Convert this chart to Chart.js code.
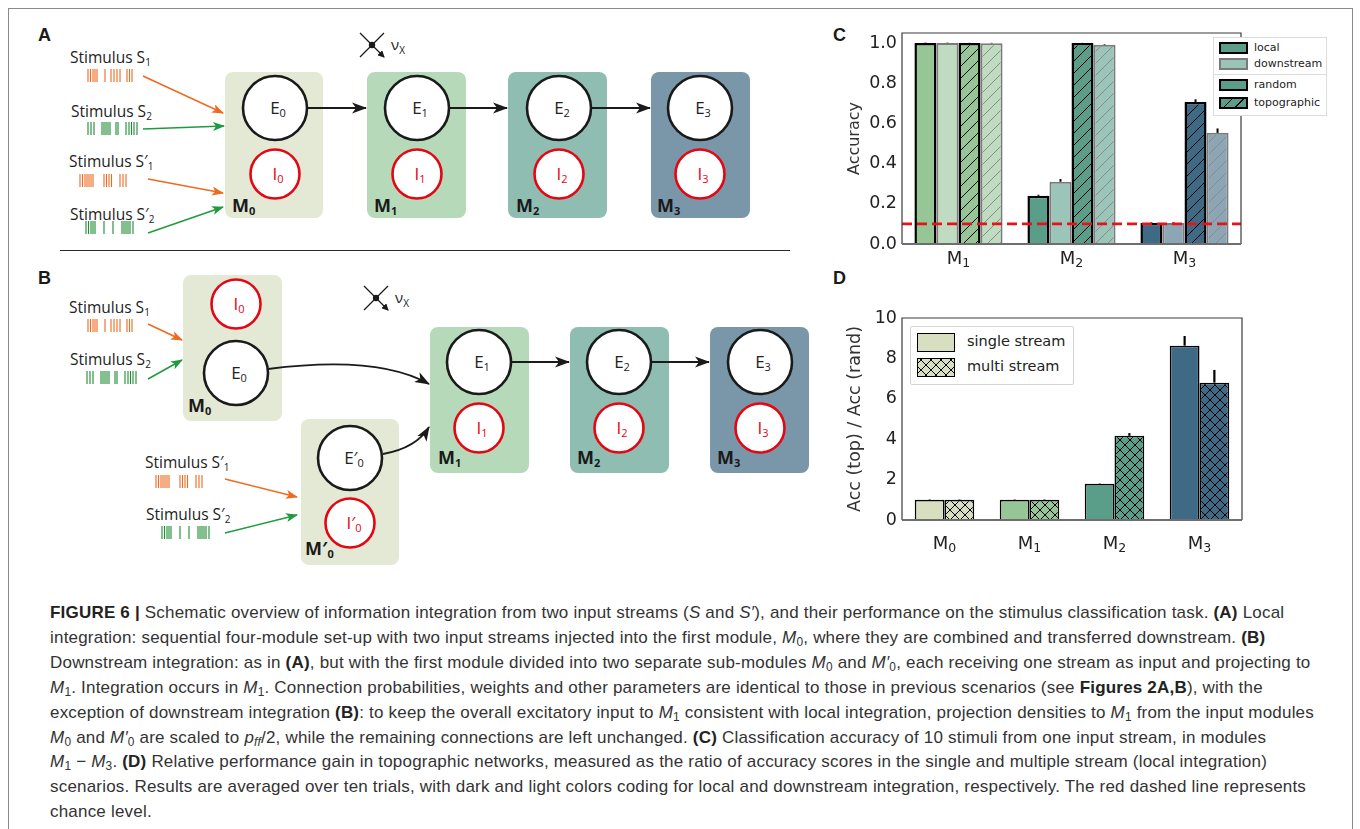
<!DOCTYPE html>
<html>
<head>
<meta charset="utf-8">
<script src="https://cdn.jsdelivr.net/npm/chart.js@4.4.1/dist/chart.umd.min.js"></script>
<style>
  html,body{margin:0;padding:0;background:#fff;}
  body{width:1360px;height:829px;position:relative;overflow:hidden;font-family:"Liberation Sans",Arial,sans-serif;}
  #frame{position:absolute;left:8px;top:8px;width:1345px;height:840px;border:1.5px solid #8a8a8a;box-sizing:border-box;}
  .abs{position:absolute;}
  .plabel{position:absolute;font:bold 18px "Liberation Sans",Arial,sans-serif;color:#1a1a1a;}
  #caption{position:absolute;left:50px;top:601px;font-size:17px;letter-spacing:0.2px;line-height:24.9px;color:#333;}
  #caption div{white-space:nowrap;}
  #caption b{color:#222;}
  #caption sub{font-size:0.7em;vertical-align:-0.25em;line-height:0;}
  .leg{position:absolute;background:#fff;font-family:"DejaVu Sans",sans-serif;color:#222;}
  .sw{position:absolute;box-sizing:border-box;}
  .lt{position:absolute;white-space:nowrap;}
</style>
</head>
<body>
<div id="frame"></div>

<svg class="abs" style="left:0;top:0" width="830" height="590" viewBox="0 0 830 590" font-family="'Open Sans','Noto Sans',sans-serif">
  <defs>
    <marker id="ab" markerUnits="userSpaceOnUse" markerWidth="16" markerHeight="12" refX="14" refY="6" orient="auto">
      <path d="M0,0.5 L15,6 L0,11.5 L4,6 z" fill="#1a1a1a"/>
    </marker>
    <marker id="ao" markerUnits="userSpaceOnUse" markerWidth="12" markerHeight="10" refX="11" refY="4.5" orient="auto">
      <path d="M0,0 L12,4.5 L0,9 L3,4.5 z" fill="#ef6a1f"/>
    </marker>
    <marker id="ag" markerUnits="userSpaceOnUse" markerWidth="12" markerHeight="10" refX="11" refY="4.5" orient="auto">
      <path d="M0,0 L12,4.5 L0,9 L3,4.5 z" fill="#1f9a3e"/>
    </marker>
    <marker id="as" markerUnits="userSpaceOnUse" markerWidth="7" markerHeight="7" refX="6" refY="3.5" orient="auto">
      <path d="M0,0 L7,3.5 L0,7 z" fill="#1a1a1a"/>
    </marker>
    <g id="spS1" stroke="#ef6a1f" stroke-width="1.1">
      <path d="M0,0v13M2.5,0v13M5,0v13M7,0v13M9,0v13M17,0v13M23,0v13M26,0v13M29,0v13M32,0v13M39,0v13M41.5,0v13M44,0v13"/>
    </g>
    <g id="spS2" stroke="#1f8a35" stroke-width="1.1">
      <path d="M0,0v13M3,0v13M6,0v13M14,0v13M16,0v13M18,0v13M20,0v13M22,0v13M28,0v13M30,0v13M38,0v13M41,0v13M43.5,0v13M46,0v13M49,0v13"/>
    </g>
    <g id="spS3" stroke="#ef6a1f" stroke-width="1.1">
      <path d="M0,0v13M2.5,0v13M5,0v13M7,0v13M9,0v13M11,0v13M13,0v13M24,0v13M26.5,0v13M29,0v13M31.5,0v13M40,0v13M43,0v13M46,0v13"/>
    </g>
    <g id="spS4" stroke="#1f8a35" stroke-width="1.1">
      <path d="M0,0v13M2.5,0v13M5,0v13M7,0v13M9,0v13M18,0v13M27,0v13M36,0v13M38,0v13M40,0v13M42,0v13M44,0v13M47,0v13"/>
    </g>
    <g id="vx">
      <path d="M0,0 L-12,-12 M0,0 L12,-12 M0,0 L-12,12 M0,0 L12,12" stroke="#1a1a1a" stroke-width="1.3" marker-end="url(#as)"/>
      <circle cx="0" cy="0" r="3.2" fill="#1a1a1a"/>
    </g>
  </defs>

  <!-- ============ PANEL A ============ -->
  <use href="#vx" x="372" y="45"/>
  <text x="391" y="50" font-size="15" fill="#222">ν<tspan font-size="10" dy="4">X</tspan></text>

  <text x="70" y="63" font-size="15.5" fill="#222">Stimulus S<tspan font-size="10" dy="3">1</tspan></text>
  <use href="#spS1" x="88" y="69"/>
  <text x="71" y="117" font-size="15.5" fill="#222">Stimulus S<tspan font-size="10" dy="3">2</tspan></text>
  <use href="#spS2" x="88" y="122"/>
  <text x="69" y="167" font-size="15.5" fill="#222">Stimulus S′<tspan font-size="10" dy="3">1</tspan></text>
  <use href="#spS3" x="80" y="174"/>
  <text x="70" y="220" font-size="15.5" fill="#222">Stimulus S′<tspan font-size="10" dy="3">2</tspan></text>
  <use href="#spS4" x="86" y="221"/>

  <path d="M143,76 L223,113" stroke="#ef6a1f" stroke-width="1.5" fill="none" marker-end="url(#ao)"/>
  <path d="M143,129 L224,126" stroke="#1f9a3e" stroke-width="1.5" fill="none" marker-end="url(#ag)"/>
  <path d="M148,179 L223,193" stroke="#ef6a1f" stroke-width="1.5" fill="none" marker-end="url(#ao)"/>
  <path d="M148,233 L223,207" stroke="#1f9a3e" stroke-width="1.5" fill="none" marker-end="url(#ag)"/>

  <rect x="225" y="72" width="98" height="146" rx="8" fill="#e3e9d4"/>
  <rect x="367" y="72" width="99" height="146" rx="8" fill="#b5d9b9"/>
  <rect x="508" y="72" width="99" height="146" rx="8" fill="#8fbdb1"/>
  <rect x="651" y="72" width="99" height="146" rx="8" fill="#7a97a9"/>

  <g fill="#fff" stroke="#1a1a1a" stroke-width="2.6">
    <circle cx="275" cy="108" r="32"/>
    <circle cx="417" cy="108" r="32"/>
    <circle cx="559" cy="108" r="32"/>
    <circle cx="700" cy="108" r="32"/>
  </g>
  <g fill="#fff" stroke="#e30613" stroke-width="2.6">
    <circle cx="275" cy="174" r="24.5"/>
    <circle cx="417" cy="174" r="24.5"/>
    <circle cx="559" cy="174" r="24.5"/>
    <circle cx="700" cy="174" r="24.5"/>
  </g>
  <g font-size="17" fill="#222" text-anchor="middle">
    <text x="278" y="114">E<tspan font-size="11" dy="3">0</tspan></text>
    <text x="420" y="114">E<tspan font-size="11" dy="3">1</tspan></text>
    <text x="562" y="114">E<tspan font-size="11" dy="3">2</tspan></text>
    <text x="703" y="114">E<tspan font-size="11" dy="3">3</tspan></text>
  </g>
  <g font-size="17" fill="#e30613" text-anchor="middle">
    <text x="278" y="180">I<tspan font-size="11" dy="3">0</tspan></text>
    <text x="420" y="180">I<tspan font-size="11" dy="3">1</tspan></text>
    <text x="562" y="180">I<tspan font-size="11" dy="3">2</tspan></text>
    <text x="703" y="180">I<tspan font-size="11" dy="3">3</tspan></text>
  </g>
  <g font-size="18" font-weight="bold" fill="#1a1a1a">
    <text x="232" y="212">M<tspan font-size="11" dy="3">0</tspan></text>
    <text x="374" y="212">M<tspan font-size="11" dy="3">1</tspan></text>
    <text x="516" y="212">M<tspan font-size="11" dy="3">2</tspan></text>
    <text x="657" y="212">M<tspan font-size="11" dy="3">3</tspan></text>
  </g>
  <path d="M307,108 L366,108" stroke="#1a1a1a" stroke-width="2" marker-end="url(#ab)"/>
  <path d="M449,108 L507,108" stroke="#1a1a1a" stroke-width="2" marker-end="url(#ab)"/>
  <path d="M591,108 L650,108" stroke="#1a1a1a" stroke-width="2" marker-end="url(#ab)"/>

  <line x1="60" y1="250.5" x2="790" y2="250.5" stroke="#2a2a2a" stroke-width="1"/>

  <!-- ============ PANEL B ============ -->
  <use href="#vx" x="376" y="298"/>
  <text x="395" y="303" font-size="15" fill="#222">ν<tspan font-size="10" dy="4">X</tspan></text>

  <text x="69" y="313" font-size="15.5" fill="#222">Stimulus S<tspan font-size="10" dy="3">1</tspan></text>
  <use href="#spS1" x="88" y="319"/>
  <text x="70" y="365" font-size="15.5" fill="#222">Stimulus S<tspan font-size="10" dy="3">2</tspan></text>
  <use href="#spS2" x="87" y="371"/>
  <text x="145" y="468" font-size="15.5" fill="#222">Stimulus S′<tspan font-size="10" dy="3">1</tspan></text>
  <use href="#spS3" x="156" y="475"/>
  <text x="146" y="520" font-size="15.5" fill="#222">Stimulus S′<tspan font-size="10" dy="3">2</tspan></text>
  <use href="#spS4" x="162" y="526"/>

  <path d="M148,324 L182,340" stroke="#ef6a1f" stroke-width="1.5" fill="none" marker-end="url(#ao)"/>
  <path d="M148,379 L182,360" stroke="#1f9a3e" stroke-width="1.5" fill="none" marker-end="url(#ag)"/>
  <path d="M225,479 L297,497" stroke="#ef6a1f" stroke-width="1.5" fill="none" marker-end="url(#ao)"/>
  <path d="M225,533 L297,515" stroke="#1f9a3e" stroke-width="1.5" fill="none" marker-end="url(#ag)"/>

  <rect x="183" y="275" width="99" height="146" rx="8" fill="#e3e9d4"/>
  <rect x="301" y="419" width="98" height="146" rx="8" fill="#e3e9d4"/>
  <rect x="430" y="327" width="99" height="146" rx="8" fill="#b5d9b9"/>
  <rect x="570" y="327" width="99" height="146" rx="8" fill="#8fbdb1"/>
  <rect x="710" y="327" width="99" height="146" rx="8" fill="#7a97a9"/>

  <g fill="#fff" stroke="#1a1a1a" stroke-width="2.6">
    <circle cx="236" cy="373" r="32"/>
    <circle cx="350" cy="458" r="32"/>
    <circle cx="479" cy="362" r="32"/>
    <circle cx="619" cy="362" r="32"/>
    <circle cx="760" cy="362" r="32"/>
  </g>
  <g fill="#fff" stroke="#e30613" stroke-width="2.6">
    <circle cx="236" cy="304" r="24.5"/>
    <circle cx="350" cy="523" r="24.5"/>
    <circle cx="479" cy="428" r="24.5"/>
    <circle cx="619" cy="428" r="24.5"/>
    <circle cx="760" cy="428" r="24.5"/>
  </g>
  <g font-size="17" fill="#222" text-anchor="middle">
    <text x="239" y="379">E<tspan font-size="11" dy="3">0</tspan></text>
    <text x="354" y="464">E′<tspan font-size="11" dy="3">0</tspan></text>
    <text x="482" y="368">E<tspan font-size="11" dy="3">1</tspan></text>
    <text x="622" y="368">E<tspan font-size="11" dy="3">2</tspan></text>
    <text x="763" y="368">E<tspan font-size="11" dy="3">3</tspan></text>
  </g>
  <g font-size="17" fill="#e30613" text-anchor="middle">
    <text x="239" y="310">I<tspan font-size="11" dy="3">0</tspan></text>
    <text x="354" y="529">I′<tspan font-size="11" dy="3">0</tspan></text>
    <text x="482" y="434">I<tspan font-size="11" dy="3">1</tspan></text>
    <text x="622" y="434">I<tspan font-size="11" dy="3">2</tspan></text>
    <text x="763" y="434">I<tspan font-size="11" dy="3">3</tspan></text>
  </g>
  <g font-size="18" font-weight="bold" fill="#1a1a1a">
    <text x="188" y="412">M<tspan font-size="11" dy="3">0</tspan></text>
    <text x="305" y="555">M′<tspan font-size="11" dy="3">0</tspan></text>
    <text x="438" y="464">M<tspan font-size="11" dy="3">1</tspan></text>
    <text x="577" y="464">M<tspan font-size="11" dy="3">2</tspan></text>
    <text x="717" y="464">M<tspan font-size="11" dy="3">3</tspan></text>
  </g>
  <path d="M268,369 C330,361 390,362 429,384" stroke="#1a1a1a" stroke-width="1.8" fill="none" marker-end="url(#ab)"/>
  <path d="M383,454 C405,450 420,442 429,427" stroke="#1a1a1a" stroke-width="1.8" fill="none" marker-end="url(#ab)"/>
  <path d="M511,362 L569,362" stroke="#1a1a1a" stroke-width="2" marker-end="url(#ab)"/>
  <path d="M651,362 L709,362" stroke="#1a1a1a" stroke-width="2" marker-end="url(#ab)"/>
</svg>

<div class="plabel" style="left:38px;top:25px;">A</div>
<div class="plabel" style="left:38px;top:268px;">B</div>
<div class="plabel" style="left:833px;top:25px;">C</div>
<div class="plabel" style="left:833px;top:268px;">D</div>

<canvas id="chartC" class="abs" style="left:830px;top:17px;" width="500" height="268"></canvas>
<canvas id="chartD" class="abs" style="left:830px;top:280px;" width="500" height="280"></canvas>

<!-- legend C -->
<div class="leg" style="left:1213px;top:37px;width:112px;height:77px;border:1px solid #dcdcdc;font-size:11px;">
  <div class="sw" id="swLocal" style="left:5px;top:4px;width:29px;height:12px;border:2px solid #000;"></div>
  <div class="lt" style="left:40px;top:3px;">local</div>
  <div class="sw" id="swDown" style="left:5px;top:20px;width:29px;height:12px;border:2px solid #7a7a7a;"></div>
  <div class="lt" style="left:40px;top:19px;">downstream</div>
  <div style="position:absolute;left:0;top:36px;width:112px;height:1px;background:#dcdcdc;"></div>
  <div class="sw" id="swRand" style="left:5px;top:41px;width:29px;height:12px;border:2px solid #000;"></div>
  <div class="lt" style="left:40px;top:40px;">random</div>
  <div class="sw" id="swTopo" style="left:5px;top:59px;width:29px;height:12px;border:2px solid #000;"></div>
  <div class="lt" style="left:40px;top:58px;">topographic</div>
</div>

<!-- legend D -->
<div class="leg" style="left:910px;top:326px;width:162px;height:57px;border:1px solid #d4d4d4;border-radius:2px;font-size:14.5px;">
  <div class="sw" id="swSingle" style="left:6px;top:6px;width:38px;height:19px;border:1.5px solid #000;"></div>
  <div class="lt" style="left:56px;top:6px;">single stream</div>
  <div class="sw" id="swMulti" style="left:6px;top:31px;width:38px;height:19px;border:1.5px solid #000;"></div>
  <div class="lt" style="left:56px;top:31px;">multi stream</div>
</div>

<div id="caption">
  <div><b>FIGURE 6 |</b> Schematic overview of information integration from two input streams (<i>S</i> and <i>S′</i>), and their performance on the stimulus classification task. <b>(A)</b> Local</div>
  <div>integration: sequential four-module set-up with two input streams injected into the first module, <i>M</i><sub>0</sub>, where they are combined and transferred downstream. <b>(B)</b></div>
  <div>Downstream integration: as in <b>(A)</b>, but with the first module divided into two separate sub-modules <i>M</i><sub>0</sub> and <i>M′</i><sub>0</sub>, each receiving one stream as input and projecting to</div>
  <div><i>M</i><sub>1</sub>. Integration occurs in <i>M</i><sub>1</sub>. Connection probabilities, weights and other parameters are identical to those in previous scenarios (see <b>Figures 2A,B</b>), with the</div>
  <div>exception of downstream integration <b>(B)</b>: to keep the overall excitatory input to <i>M</i><sub>1</sub> consistent with local integration, projection densities to <i>M</i><sub>1</sub> from the input modules</div>
  <div><i>M</i><sub>0</sub> and <i>M′</i><sub>0</sub> are scaled to <i>p</i><sub><i>ff</i></sub>/2, while the remaining connections are left unchanged. <b>(C)</b> Classification accuracy of 10 stimuli from one input stream, in modules</div>
  <div><i>M</i><sub>1</sub> − <i>M</i><sub>3</sub>. <b>(D)</b> Relative performance gain in topographic networks, measured as the ratio of accuracy scores in the single and multiple stream (local integration)</div>
  <div>scenarios. Results are averaged over ten trials, with dark and light colors coding for local and downstream integration, respectively. The red dashed line represents</div>
  <div>chance level.</div>
</div>

<script>
// ---------------- DATA ----------------
// Panel C: classification accuracy
const catsC = ['M\u2081', 'M\u2082', 'M\u2083'];
const localRandom     = [1.0, 0.24, 0.105];
const downRandom      = [1.0, 0.31, 0.104];
const localTopo       = [1.0, 1.0, 0.707];
const downTopo        = [0.999, 0.992, 0.553];
const errLocalRandom  = [0.002, 0.005, 0.003];
const errDownRandom   = [0.002, 0.013, 0.004];
const errLocalTopo    = [0.001, 0.001, 0.013];
const errDownTopo     = [0.002, 0.003, 0.022];
const chanceLevel = 0.1;
const yTicksC = [0.0, 0.2, 0.4, 0.6, 0.8, 1.0];

// Panel D: Acc(top)/Acc(rand)
const catsD = ['M\u2080', 'M\u2081', 'M\u2082', 'M\u2083'];
const singleStream    = [1.0, 1.0, 1.79, 8.63];
const multiStream     = [1.0, 1.0, 4.17, 6.8];
const errSingle       = [0.02, 0.02, 0.02, 0.48];
const errMulti        = [0.02, 0.02, 0.13, 0.63];
const yTicksD = [0, 2, 4, 6, 8, 10];

// ---------------- STYLE ----------------
const colC = ['#96c596', '#5a9e8a', '#3f6a85'];
const colD = ['#d8dfc0', '#96c596', '#5a9e8a', '#3f6a85'];
function lighten(hex, a) {
  const n = parseInt(hex.slice(1), 16);
  const r = (n >> 16) & 255, g = (n >> 8) & 255, b = n & 255;
  const m = v => Math.round(a * v + (1 - a) * 255);
  return `rgb(${m(r)},${m(g)},${m(b)})`;
}
function hatch(fill, stroke, kind, size, lw) {
  const c = document.createElement('canvas');
  c.width = c.height = size;
  const g = c.getContext('2d');
  g.fillStyle = fill; g.fillRect(0, 0, size, size);
  g.strokeStyle = stroke; g.lineWidth = lw;
  for (const o of [-size, 0, size]) {
    g.beginPath(); g.moveTo(o, size); g.lineTo(o + size, 0); g.stroke();
    if (kind === 'x') { g.beginPath(); g.moveTo(o, 0); g.lineTo(o + size, size); g.stroke(); }
  }
  return g.createPattern(c, 'repeat');
}
const FONT = 'DejaVu Sans';
const lightC = colC.map(c => lighten(c, 0.6));
const greyEdge = '#7a7a7a';

// Legend swatches
document.getElementById('swLocal').style.background = colC[1];
document.getElementById('swDown').style.background = lightC[1];
document.getElementById('swRand').style.background = colC[1];
document.getElementById('swTopo').style.background =
  `repeating-linear-gradient(-45deg, ${colC[1]} 0 7px, #000 7px 8px)`;
document.getElementById('swSingle').style.background = colD[0];
document.getElementById('swMulti').style.background =
  `repeating-linear-gradient(45deg, transparent 0 6px, #000 6px 7px), repeating-linear-gradient(-45deg, transparent 0 6px, #000 6px 7px), ${colD[0]}`;

// ---------------- PLUGINS ----------------
const errorBars = {
  id: 'errorBars',
  afterDatasetsDraw(chart, args, opts) {
    const ctx = chart.ctx, ys = chart.scales.y;
    ctx.save();
    ctx.strokeStyle = '#000'; ctx.lineWidth = opts.width || 2;
    chart.data.datasets.forEach((ds, i) => {
      const meta = chart.getDatasetMeta(i);
      meta.data.forEach((bar, j) => {
        const v = ds.data[j], e = ds.errors[j];
        ctx.beginPath();
        ctx.moveTo(bar.x, ys.getPixelForValue(v));
        ctx.lineTo(bar.x, ys.getPixelForValue(v + e));
        ctx.stroke();
      });
    });
    ctx.restore();
  }
};
const chanceLine = {
  id: 'chanceLine',
  afterDatasetsDraw(chart, args, opts) {
    if (opts.value == null) return;
    const ctx = chart.ctx, a = chart.chartArea;
    const y = chart.scales.y.getPixelForValue(opts.value);
    ctx.save();
    ctx.strokeStyle = '#e3141c'; ctx.lineWidth = 2.6; ctx.setLineDash([10, 5]);
    ctx.beginPath(); ctx.moveTo(a.left, y); ctx.lineTo(a.right, y); ctx.stroke();
    ctx.restore();
  }
};
const frame = {
  id: 'frame',
  afterDraw(chart) {
    const ctx = chart.ctx, a = chart.chartArea;
    ctx.save();
    ctx.strokeStyle = '#3a3a3a'; ctx.lineWidth = 1.2;
    ctx.beginPath();
    ctx.moveTo(a.left, a.bottom); ctx.lineTo(a.left, a.top); ctx.lineTo(a.right, a.top); ctx.lineTo(a.right, a.bottom);
    ctx.stroke();
    ctx.strokeStyle = '#6e6e6e'; ctx.lineWidth = 2;
    ctx.beginPath(); ctx.moveTo(a.left, a.bottom); ctx.lineTo(a.right, a.bottom); ctx.stroke();
    ctx.restore();
  }
};
// category labels "M" with a proper subscript, placed at the x-scale's own tick positions
const subLabels = {
  id: 'subLabels',
  afterDraw(chart, args, opts) {
    const ctx = chart.ctx, xs = chart.scales.x, a = chart.chartArea;
    ctx.save();
    ctx.fillStyle = '#222';
    ctx.textBaseline = 'alphabetic';
    chart.data.labels.forEach((lbl, i) => {
      const main = lbl.slice(0, 1);
      const sub = String.fromCharCode(lbl.charCodeAt(1) - 0x2080 + 48);
      ctx.font = `18px "${FONT}"`;
      const wm = ctx.measureText(main).width;
      ctx.font = `12.5px "${FONT}"`;
      const ws = ctx.measureText(sub).width;
      const x0 = xs.getPixelForValue(i) - (wm + ws) / 2;
      const base = a.bottom + opts.offset;
      ctx.font = `18px "${FONT}"`;
      ctx.fillText(main, x0, base);
      ctx.font = `12.5px "${FONT}"`;
      ctx.fillText(sub, x0 + wm, base + 3);
    });
    ctx.restore();
  }
};

function baseScales(yMin, yMax, ticks, fmt, yTitle, titleSize, axisW, axisH) {
  return {
    x: {
      type: 'category', offset: true,
      grid: { display: false, drawTicks: false }, border: { display: false },
      ticks: { display: false },
      afterFit(s) { s.height = axisH; }
    },
    y: {
      min: yMin, max: yMax,
      grid: { display: false, drawTicks: false }, border: { display: false },
      afterBuildTicks(s) { s.ticks = ticks.map(v => ({ value: v })); },
      ticks: { font: { family: FONT, size: 17.5 }, color: '#222', padding: 5, callback: fmt },
      title: { display: true, text: yTitle, font: { family: FONT, size: titleSize }, color: '#333', padding: { top: 15, bottom: 0 } },
      afterFit(s) { s.width = axisW; }
    }
  };
}

// ---------------- CHART C ----------------
new Chart(document.getElementById('chartC'), {
  type: 'bar',
  data: {
    labels: catsC,
    datasets: [
      { label: 'local random', data: localRandom, errors: errLocalRandom,
        backgroundColor: colC, borderColor: '#000', borderWidth: 2.5 },
      { label: 'downstream random', data: downRandom, errors: errDownRandom,
        backgroundColor: lightC, borderColor: greyEdge, borderWidth: 2 },
      { label: 'local topographic', data: localTopo, errors: errLocalTopo,
        backgroundColor: colC.map(c => hatch(c, '#000', '/', 12, 1)), borderColor: '#000', borderWidth: 2.5 },
      { label: 'downstream topographic', data: downTopo, errors: errDownTopo,
        backgroundColor: lightC.map(c => hatch(c, '#8a8a8a', '/', 12, 1)), borderColor: greyEdge, borderWidth: 2 }
    ]
  },
  options: {
    responsive: false, animation: false, devicePixelRatio: 1,
    layout: { padding: { left: 0, top: 16, right: 89, bottom: 0 } },
    datasets: { bar: { categoryPercentage: 0.78, barPercentage: 1.0 } },
    plugins: { legend: { display: false }, tooltip: { enabled: false },
               errorBars: { width: 2 }, chanceLine: { value: chanceLevel }, subLabels: { offset: 20 } },
    scales: baseScales(0, 1.05, yTicksC, v => Number(v).toFixed(1), 'Accuracy', 16, 72, 41)
  },
  plugins: [errorBars, chanceLine, frame, subLabels]
});

// ---------------- CHART D ----------------
new Chart(document.getElementById('chartD'), {
  type: 'bar',
  data: {
    labels: catsD,
    datasets: [
      { label: 'single stream', data: singleStream, errors: errSingle,
        backgroundColor: colD, borderColor: '#000', borderWidth: 1.6 },
      { label: 'multi stream', data: multiStream, errors: errMulti,
        backgroundColor: colD.map(c => hatch(c, '#000', 'x', 10, 1)), borderColor: '#000', borderWidth: 1.6 }
    ]
  },
  options: {
    responsive: false, animation: false, devicePixelRatio: 1,
    layout: { padding: { left: 0, top: 38, right: 88, bottom: 0 } },
    datasets: { bar: { categoryPercentage: 0.7, barPercentage: 1.0 } },
    plugins: { legend: { display: false }, tooltip: { enabled: false },
               errorBars: { width: 2.2 }, chanceLine: { value: null }, subLabels: { offset: 29 } },
    scales: baseScales(0, 10, yTicksD, v => String(v), 'Acc (top) / Acc (rand)', 17.5, 72, 40)
  },
  plugins: [errorBars, chanceLine, frame, subLabels]
});
</script>
</body>
</html>
